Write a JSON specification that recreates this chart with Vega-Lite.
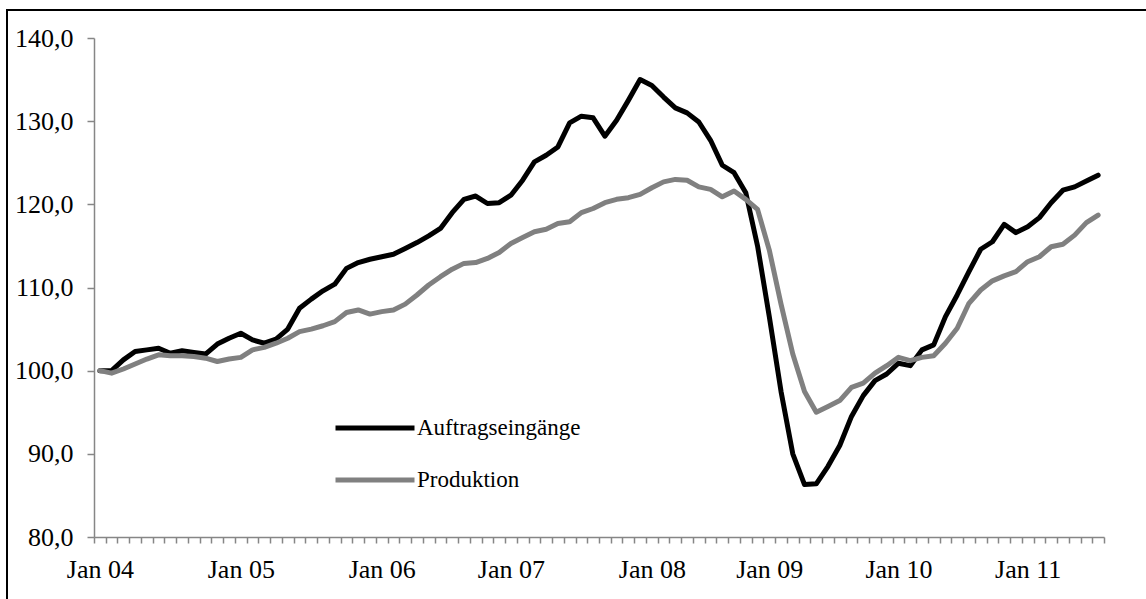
{
  "$schema": "https://vega.github.io/schema/vega-lite/v6.json",
  "width": 1141,
  "height": 591,
  "autosize": {"type": "none"},
  "padding": {"left": 7, "top": 10, "right": 0, "bottom": 0},
  "background": "#ffffff",
  "config": {
    "view": {"stroke": "#000000", "strokeWidth": 2},
    "font": "Liberation Serif",
    "axis": {
      "labelFont": "Liberation Serif",
      "labelFontSize": 26,
      "labelColor": "#000000",
      "domainColor": "#868686",
      "tickColor": "#868686",
      "domainWidth": 1.5,
      "tickWidth": 1.5,
      "grid": false,
      "title": null
    }
  },
  "data": {
    "values": [
      {"month": "2004-01", "Auftragseingänge": 100.0, "Produktion": 100.0},
      {"month": "2004-02", "Auftragseingänge": 100.0, "Produktion": 99.7},
      {"month": "2004-03", "Auftragseingänge": 101.3, "Produktion": 100.2},
      {"month": "2004-04", "Auftragseingänge": 102.3, "Produktion": 100.8},
      {"month": "2004-05", "Auftragseingänge": 102.5, "Produktion": 101.4},
      {"month": "2004-06", "Auftragseingänge": 102.7, "Produktion": 101.9},
      {"month": "2004-07", "Auftragseingänge": 102.1, "Produktion": 101.8},
      {"month": "2004-08", "Auftragseingänge": 102.4, "Produktion": 101.8},
      {"month": "2004-09", "Auftragseingänge": 102.2, "Produktion": 101.7},
      {"month": "2004-10", "Auftragseingänge": 102.0, "Produktion": 101.5},
      {"month": "2004-11", "Auftragseingänge": 103.2, "Produktion": 101.1},
      {"month": "2004-12", "Auftragseingänge": 103.9, "Produktion": 101.4},
      {"month": "2005-01", "Auftragseingänge": 104.5, "Produktion": 101.6},
      {"month": "2005-02", "Auftragseingänge": 103.7, "Produktion": 102.5},
      {"month": "2005-03", "Auftragseingänge": 103.3, "Produktion": 102.8},
      {"month": "2005-04", "Auftragseingänge": 103.8, "Produktion": 103.3},
      {"month": "2005-05", "Auftragseingänge": 105.0, "Produktion": 103.9},
      {"month": "2005-06", "Auftragseingänge": 107.5, "Produktion": 104.7},
      {"month": "2005-07", "Auftragseingänge": 108.6, "Produktion": 105.0},
      {"month": "2005-08", "Auftragseingänge": 109.6, "Produktion": 105.4},
      {"month": "2005-09", "Auftragseingänge": 110.4, "Produktion": 105.9},
      {"month": "2005-10", "Auftragseingänge": 112.3, "Produktion": 107.0},
      {"month": "2005-11", "Auftragseingänge": 113.0, "Produktion": 107.3},
      {"month": "2005-12", "Auftragseingänge": 113.4, "Produktion": 106.8},
      {"month": "2006-01", "Auftragseingänge": 113.7, "Produktion": 107.1},
      {"month": "2006-02", "Auftragseingänge": 114.0, "Produktion": 107.3},
      {"month": "2006-03", "Auftragseingänge": 114.7, "Produktion": 108.0},
      {"month": "2006-04", "Auftragseingänge": 115.4, "Produktion": 109.1},
      {"month": "2006-05", "Auftragseingänge": 116.2, "Produktion": 110.3},
      {"month": "2006-06", "Auftragseingänge": 117.1, "Produktion": 111.3},
      {"month": "2006-07", "Auftragseingänge": 119.0, "Produktion": 112.2},
      {"month": "2006-08", "Auftragseingänge": 120.6, "Produktion": 112.9},
      {"month": "2006-09", "Auftragseingänge": 121.0, "Produktion": 113.0},
      {"month": "2006-10", "Auftragseingänge": 120.1, "Produktion": 113.5},
      {"month": "2006-11", "Auftragseingänge": 120.2, "Produktion": 114.2},
      {"month": "2006-12", "Auftragseingänge": 121.1, "Produktion": 115.3},
      {"month": "2007-01", "Auftragseingänge": 122.9, "Produktion": 116.0},
      {"month": "2007-02", "Auftragseingänge": 125.1, "Produktion": 116.7},
      {"month": "2007-03", "Auftragseingänge": 125.9, "Produktion": 117.0},
      {"month": "2007-04", "Auftragseingänge": 126.9, "Produktion": 117.7},
      {"month": "2007-05", "Auftragseingänge": 129.8, "Produktion": 117.9},
      {"month": "2007-06", "Auftragseingänge": 130.6, "Produktion": 119.0},
      {"month": "2007-07", "Auftragseingänge": 130.4, "Produktion": 119.5},
      {"month": "2007-08", "Auftragseingänge": 128.2, "Produktion": 120.2},
      {"month": "2007-09", "Auftragseingänge": 130.1, "Produktion": 120.6},
      {"month": "2007-10", "Auftragseingänge": 132.5, "Produktion": 120.8},
      {"month": "2007-11", "Auftragseingänge": 135.0, "Produktion": 121.2},
      {"month": "2007-12", "Auftragseingänge": 134.3, "Produktion": 122.0},
      {"month": "2008-01", "Auftragseingänge": 132.9, "Produktion": 122.7},
      {"month": "2008-02", "Auftragseingänge": 131.6, "Produktion": 123.0},
      {"month": "2008-03", "Auftragseingänge": 131.0, "Produktion": 122.9},
      {"month": "2008-04", "Auftragseingänge": 129.9, "Produktion": 122.1},
      {"month": "2008-05", "Auftragseingänge": 127.7, "Produktion": 121.8},
      {"month": "2008-06", "Auftragseingänge": 124.7, "Produktion": 120.9},
      {"month": "2008-07", "Auftragseingänge": 123.8, "Produktion": 121.6},
      {"month": "2008-08", "Auftragseingänge": 121.4, "Produktion": 120.6},
      {"month": "2008-09", "Auftragseingänge": 115.0, "Produktion": 119.4},
      {"month": "2008-10", "Auftragseingänge": 106.5, "Produktion": 114.5},
      {"month": "2008-11", "Auftragseingänge": 97.5, "Produktion": 108.0},
      {"month": "2008-12", "Auftragseingänge": 90.0, "Produktion": 102.0},
      {"month": "2009-01", "Auftragseingänge": 86.3, "Produktion": 97.5},
      {"month": "2009-02", "Auftragseingänge": 86.4, "Produktion": 95.0},
      {"month": "2009-03", "Auftragseingänge": 88.5, "Produktion": 95.7},
      {"month": "2009-04", "Auftragseingänge": 91.0, "Produktion": 96.4},
      {"month": "2009-05", "Auftragseingänge": 94.5, "Produktion": 98.0},
      {"month": "2009-06", "Auftragseingänge": 97.0, "Produktion": 98.5},
      {"month": "2009-07", "Auftragseingänge": 98.8, "Produktion": 99.7},
      {"month": "2009-08", "Auftragseingänge": 99.6, "Produktion": 100.6},
      {"month": "2009-09", "Auftragseingänge": 100.9, "Produktion": 101.6},
      {"month": "2009-10", "Auftragseingänge": 100.6, "Produktion": 101.2},
      {"month": "2009-11", "Auftragseingänge": 102.5, "Produktion": 101.6},
      {"month": "2009-12", "Auftragseingänge": 103.1, "Produktion": 101.8},
      {"month": "2010-01", "Auftragseingänge": 106.5, "Produktion": 103.3},
      {"month": "2010-02", "Auftragseingänge": 109.1, "Produktion": 105.1},
      {"month": "2010-03", "Auftragseingänge": 111.9, "Produktion": 108.1},
      {"month": "2010-04", "Auftragseingänge": 114.6, "Produktion": 109.7},
      {"month": "2010-05", "Auftragseingänge": 115.5, "Produktion": 110.8},
      {"month": "2010-06", "Auftragseingänge": 117.6, "Produktion": 111.4},
      {"month": "2010-07", "Auftragseingänge": 116.6, "Produktion": 111.9},
      {"month": "2010-08", "Auftragseingänge": 117.3, "Produktion": 113.1},
      {"month": "2010-09", "Auftragseingänge": 118.4, "Produktion": 113.7},
      {"month": "2010-10", "Auftragseingänge": 120.2, "Produktion": 114.9},
      {"month": "2010-11", "Auftragseingänge": 121.7, "Produktion": 115.2},
      {"month": "2010-12", "Auftragseingänge": 122.1, "Produktion": 116.3},
      {"month": "2011-01", "Auftragseingänge": 122.8, "Produktion": 117.8},
      {"month": "2011-02", "Auftragseingänge": 123.5, "Produktion": 118.7}
    ]
  },
  "transform": [
    {"fold": ["Auftragseingänge", "Produktion"], "as": ["series", "value"]}
  ],
  "mark": {"type": "line", "strokeWidth": 5, "strokeCap": "round", "strokeJoin": "round"},
  "encoding": {
    "x": {
      "field": "month",
      "type": "ordinal",
      "bandPosition": 0.5,
      "scale": {"type": "band", "range": [87, 1097], "paddingInner": 0, "paddingOuter": 0},
      "axis": {
        "offset": -64,
        "tickBand": "extent",
        "tickSize": 6,
        "labelPadding": 13,
        "labelAngle": 0,
        "labelOverlap": false,
        "labelBound": false,
        "labelExpr": "datum.value == '2004-01' ? 'Jan 04' : datum.value == '2005-01' ? 'Jan 05' : datum.value == '2006-01' ? 'Jan 06' : datum.value == '2006-12' ? 'Jan 07' : datum.value == '2007-12' ? 'Jan 08' : datum.value == '2008-10' ? 'Jan 09' : datum.value == '2009-09' ? 'Jan 10' : datum.value == '2010-08' ? 'Jan 11' : ''"
      }
    },
    "y": {
      "field": "value",
      "type": "quantitative",
      "scale": {"domain": [80, 140], "range": [527, 28], "nice": false, "zero": false},
      "axis": {
        "offset": -87,
        "values": [80, 90, 100, 110, 120, 130, 140],
        "tickSize": 7,
        "labelPadding": 14,
        "labelExpr": "replace(format(datum.value, '.1f'), '.', ',')"
      }
    },
    "color": {
      "field": "series",
      "type": "nominal",
      "scale": {"domain": ["Auftragseingänge", "Produktion"], "range": ["#000000", "#808080"]},
      "legend": {
        "title": null,
        "orient": "none",
        "direction": "vertical",
        "legendX": 326,
        "legendY": 406,
        "padding": 0,
        "symbolType": "stroke",
        "symbolSize": 6241,
        "symbolStrokeWidth": 5,
        "labelFont": "Liberation Serif",
        "labelFontSize": 23,
        "labelColor": "#000000",
        "labelOffset": 0,
        "labelLimit": 600,
        "rowPadding": 28,
        "clipHeight": 24
      }
    }
  }
}
